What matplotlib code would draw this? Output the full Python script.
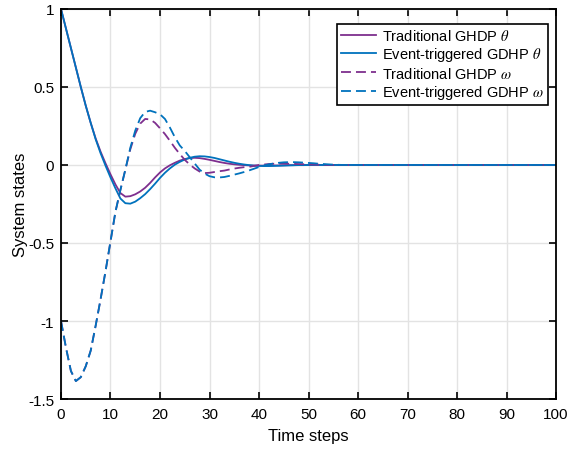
import numpy as np
import matplotlib
matplotlib.use('Agg')
import matplotlib.pyplot as plt

# time steps 0..100
steps = np.arange(0, 101)

theta_trad = [1.0, 0.875, 0.75, 0.625, 0.5, 0.38, 0.27, 0.17, 0.085, 0.01,
              -0.06, -0.125, -0.18, -0.203, -0.2, -0.188, -0.17, -0.146, -0.115, -0.08,
              -0.048, -0.022, -0.002, 0.014, 0.028, 0.038, 0.044, 0.046, 0.044, 0.039,
              0.033, 0.026, 0.019, 0.013, 0.008, 0.004, 0.001, -0.001, -0.003, -0.004,
              -0.004, -0.004, -0.004, -0.003, -0.003, -0.002, -0.001, -0.001, 0.0, 0.0,
              0.0, 0.0, 0.0, 0.0, 0.0, 0.0, 0.0, 0.0, 0.0, 0.0,
              0.0, 0.0, 0.0, 0.0, 0.0, 0.0, 0.0, 0.0, 0.0, 0.0,
              0.0, 0.0, 0.0, 0.0, 0.0, 0.0, 0.0, 0.0, 0.0, 0.0,
              0.0, 0.0, 0.0, 0.0, 0.0, 0.0, 0.0, 0.0, 0.0, 0.0,
              0.0, 0.0, 0.0, 0.0, 0.0, 0.0, 0.0, 0.0, 0.0, 0.0,
              0.0]

theta_event = [1.0, 0.875, 0.75, 0.625, 0.5, 0.38, 0.27, 0.165, 0.075, -0.005,
               -0.08, -0.15, -0.215, -0.245, -0.248, -0.235, -0.213, -0.187, -0.155, -0.12,
               -0.083, -0.05, -0.022, 0.002, 0.02, 0.035, 0.046, 0.053, 0.056, 0.055,
               0.051, 0.045, 0.037, 0.029, 0.021, 0.014, 0.008, 0.003, -0.001, -0.004,
               -0.006, -0.007, -0.007, -0.006, -0.005, -0.004, -0.003, -0.002, -0.001, -0.001,
               0.0, 0.0, 0.0, 0.0, 0.0, 0.0, 0.0, 0.0, 0.0, 0.0,
               0.0, 0.0, 0.0, 0.0, 0.0, 0.0, 0.0, 0.0, 0.0, 0.0,
               0.0, 0.0, 0.0, 0.0, 0.0, 0.0, 0.0, 0.0, 0.0, 0.0,
               0.0, 0.0, 0.0, 0.0, 0.0, 0.0, 0.0, 0.0, 0.0, 0.0,
               0.0, 0.0, 0.0, 0.0, 0.0, 0.0, 0.0, 0.0, 0.0, 0.0,
               0.0]

omega_trad = [-1.0, -1.17, -1.32, -1.385, -1.36, -1.29, -1.19, -1.03, -0.86, -0.68,
              -0.49, -0.3, -0.16, -0.03, 0.1, 0.2, 0.265, 0.295, 0.292, 0.27,
              0.235, 0.198, 0.155, 0.11, 0.07, 0.033, 0.003, -0.022, -0.042, -0.052,
              -0.05, -0.045, -0.04, -0.036, -0.029, -0.023, -0.018, -0.014, -0.012, -0.006,
              0.0, 0.003, 0.006, 0.008, 0.009, 0.009, 0.008, 0.007, 0.006, 0.005,
              0.004, 0.003, 0.002, 0.001, 0.0, 0.0, 0.0, 0.0, 0.0, 0.0,
              0.0, 0.0, 0.0, 0.0, 0.0, 0.0, 0.0, 0.0, 0.0, 0.0,
              0.0, 0.0, 0.0, 0.0, 0.0, 0.0, 0.0, 0.0, 0.0, 0.0,
              0.0, 0.0, 0.0, 0.0, 0.0, 0.0, 0.0, 0.0, 0.0, 0.0,
              0.0, 0.0, 0.0, 0.0, 0.0, 0.0, 0.0, 0.0, 0.0, 0.0,
              0.0]

omega_event = [-1.0, -1.17, -1.32, -1.385, -1.36, -1.29, -1.19, -1.03, -0.86, -0.68,
               -0.49, -0.3, -0.16, -0.03, 0.11, 0.22, 0.3, 0.34, 0.348, 0.338,
               0.325, 0.295, 0.24, 0.178, 0.125, 0.09, 0.05, 0.01, -0.03, -0.055,
               -0.072, -0.079, -0.08, -0.077, -0.07, -0.062, -0.054, -0.045, -0.035, -0.024,
               -0.013, -0.004, 0.004, 0.01, 0.014, 0.017, 0.018, 0.018, 0.017, 0.015,
               0.013, 0.011, 0.008, 0.006, 0.004, 0.002, 0.001, 0.0, 0.0, 0.0,
               0.0, 0.0, 0.0, 0.0, 0.0, 0.0, 0.0, 0.0, 0.0, 0.0,
               0.0, 0.0, 0.0, 0.0, 0.0, 0.0, 0.0, 0.0, 0.0, 0.0,
               0.0, 0.0, 0.0, 0.0, 0.0, 0.0, 0.0, 0.0, 0.0, 0.0,
               0.0, 0.0, 0.0, 0.0, 0.0, 0.0, 0.0, 0.0, 0.0, 0.0,
               0.0]

legend_labels = [r'Traditional GHDP $\theta$', r'Event-triggered GDHP $\theta$',
                 r'Traditional GHDP $\omega$', r'Event-triggered GDHP $\omega$']

xticks = np.arange(0, 101, 10)
yticks = [-1.5, -1, -0.5, 0, 0.5, 1]
ytick_labels = ['-1.5', '-1', '-0.5', '0', '0.5', '1']

purple = '#7E2F8E'
blue = '#0072BD'

plt.rcParams['font.family'] = ['Liberation Sans', 'DejaVu Sans']
plt.rcParams['mathtext.fontset'] = 'stix'

fig = plt.figure(figsize=(5.69, 4.52), dpi=100, facecolor='white')
ax = fig.add_axes([0.1072, 0.115, 0.870, 0.863])

lw = 1.3
dash = (0, (5.5, 2.8))
ax.plot(steps, theta_trad, color=purple, lw=lw, label=legend_labels[0])
ax.plot(steps, theta_event, color=blue, lw=lw, label=legend_labels[1])
ax.plot(steps, omega_trad, color=purple, lw=lw, ls=dash, label=legend_labels[2])
ax.plot(steps, omega_event, color=blue, lw=lw, ls=dash, label=legend_labels[3])

ax.set_xlim(0, 100)
ax.set_ylim(-1.5, 1)
ax.set_xticks(xticks)
ax.set_yticks(yticks)
ax.set_yticklabels(ytick_labels)
ax.tick_params(direction='in', length=5, width=1.2, labelsize=11, top=True, right=True,
               labeltop=False, labelright=False)
ax.tick_params(axis='x', pad=6)
ax.tick_params(axis='y', pad=5)
ax.grid(True, color='#e3e3e3', lw=1.0)
ax.set_axisbelow(True)
for s in ax.spines.values():
    s.set_linewidth(1.3)
    s.set_color('black')

ax.set_xlabel('Time steps', fontsize=12, labelpad=5)
ax.set_ylabel('System states', fontsize=12, labelpad=0)

leg = ax.legend(loc='upper right', bbox_to_anchor=(0.984, 0.962), fontsize=10.5,
                fancybox=False, framealpha=1, edgecolor='black', borderpad=0.3,
                labelspacing=0.15, handlelength=2.4, handletextpad=0.4, borderaxespad=0)
leg.get_frame().set_linewidth(1.2)

plt.savefig('out.png', dpi=100)
plt.close(fig)
